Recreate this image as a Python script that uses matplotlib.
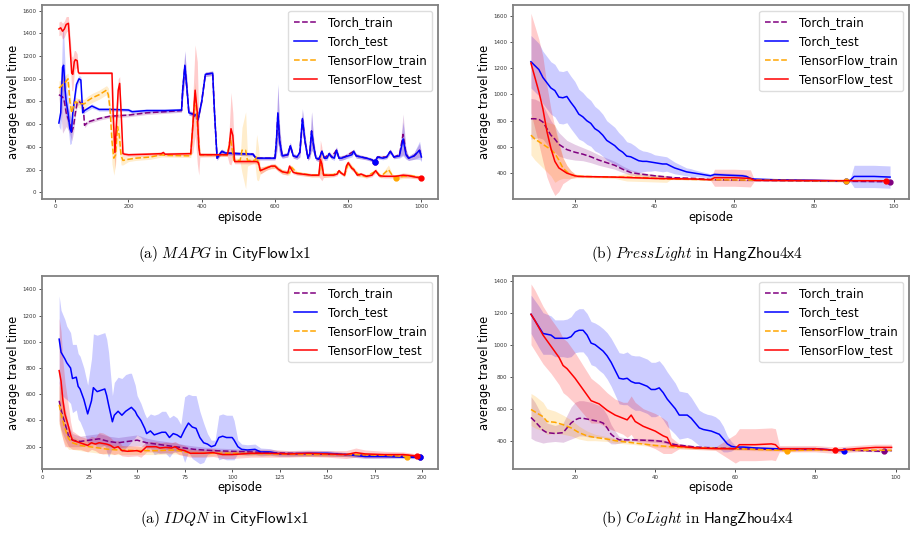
import numpy as np
import matplotlib
matplotlib.use("Agg")
import matplotlib.pyplot as plt

plt.rcParams['mathtext.fontset'] = 'cm'

series_names = ["Torch_train", "Torch_test", "TensorFlow_train", "TensorFlow_test"]
series_colors = ["purple", "blue", "orange", "red"]
series_styles = ["--", "-", "--", "-"]

captions = [
    r"$\mathrm{(a)}\ \mathit{MAPG}\ \mathrm{in}\ \mathsf{CityFlow1x1}$",
    r"$\mathrm{(b)}\ \mathit{PressLight}\ \mathrm{in}\ \mathsf{HangZhou4x4}$",
    r"$\mathrm{(a)}\ \mathit{IDQN}\ \mathrm{in}\ \mathsf{CityFlow1x1}$",
    r"$\mathrm{(b)}\ \mathit{CoLight}\ \mathrm{in}\ \mathsf{HangZhou4x4}$",
]

# (episode, mean, half-width of shaded band)
mapg_torch_train = [(10, 860, 30), (15, 850, 150), (20, 840, 320), (25, 800, 250), (30, 700, 120),
                    (35, 650, 100), (40, 600, 90), (45, 530, 80), (50, 580, 60), (55, 700, 40),
                    (60, 790, 30), (65, 800, 25), (72, 780, 20), (76, 780, 20), (80, 590, 20),
                    (90, 620, 15), (100, 630, 15), (120, 650, 15), (150, 670, 15), (200, 680, 15),
                    (250, 700, 15), (300, 710, 15), (345, 720, 15), (348, 900, 80), (354, 1110, 130),
                    (360, 900, 80), (365, 700, 20), (375, 690, 20), (390, 640, 20), (400, 800, 20),
                    (410, 1040, 20), (430, 1050, 20), (435, 700, 20), (442, 300, 20), (450, 340, 20),
                    (455, 360, 20), (465, 345, 15), (500, 340, 15), (540, 335, 15), (548, 300, 15),
                    (600, 300, 15), (604, 450, 120), (608, 690, 250), (613, 450, 120), (620, 320, 20),
                    (635, 330, 20), (642, 410, 30), (650, 320, 20), (660, 310, 20), (668, 350, 40),
                    (675, 640, 90), (682, 450, 60), (690, 300, 20), (695, 340, 40), (700, 540, 170),
                    (706, 400, 60), (712, 300, 20), (720, 290, 20), (728, 360, 20), (735, 300, 20),
                    (748, 340, 20), (755, 310, 20), (768, 370, 30), (775, 300, 20), (790, 310, 20),
                    (815, 360, 20), (822, 320, 20), (850, 300, 15), (865, 285, 15), (873, 270, 10),
                    (880, 310, 15), (905, 310, 15), (915, 360, 20), (925, 310, 15), (940, 330, 20),
                    (950, 510, 180), (958, 340, 40), (965, 300, 20), (980, 320, 30), (995, 370, 60),
                    (1000, 310, 30)]
mapg_torch_test = [(10, 610, 30), (15, 700, 150), (20, 1100, 330), (23, 1120, 300), (27, 900, 200),
                   (30, 800, 150), (35, 700, 130), (40, 560, 140), (44, 530, 100), (48, 700, 80),
                   (52, 800, 60), (58, 950, 40), (65, 1000, 30), (70, 990, 30), (75, 700, 20),
                   (80, 720, 20), (90, 740, 20), (100, 760, 20), (110, 745, 15), (120, 730, 15),
                   (150, 730, 15), (200, 725, 15), (210, 710, 15), (250, 720, 15), (300, 720, 15),
                   (345, 725, 15), (348, 900, 80), (354, 1120, 130), (360, 900, 80), (365, 700, 20),
                   (375, 690, 20), (385, 680, 20), (390, 640, 20), (400, 800, 20), (410, 1040, 20),
                   (430, 1050, 20), (435, 700, 20), (442, 300, 20), (450, 340, 20), (455, 360, 20),
                   (465, 345, 15), (500, 340, 15), (540, 335, 15), (548, 300, 15), (560, 300, 15),
                   (600, 300, 15), (604, 450, 120), (608, 700, 260), (613, 450, 120), (620, 320, 20),
                   (635, 330, 20), (642, 410, 30), (650, 320, 20), (660, 310, 20), (668, 350, 40),
                   (675, 650, 90), (682, 450, 60), (690, 300, 20), (695, 340, 40), (700, 540, 170),
                   (706, 400, 60), (712, 300, 20), (720, 290, 20), (728, 360, 20), (735, 300, 20),
                   (742, 300, 20), (748, 340, 20), (755, 310, 20), (762, 300, 20), (768, 370, 30),
                   (775, 300, 20), (782, 300, 20), (790, 310, 20), (800, 320, 20), (810, 330, 20),
                   (815, 360, 20), (822, 320, 20), (835, 310, 15), (850, 300, 15), (865, 285, 15),
                   (873, 265, 10), (880, 310, 15), (895, 300, 15), (905, 310, 15), (915, 360, 20),
                   (925, 310, 15), (940, 320, 20), (950, 470, 150), (958, 330, 40), (965, 300, 20),
                   (980, 320, 30), (995, 370, 80), (1000, 310, 40)]
mapg_tf_train = [(10, 920, 60), (15, 930, 60), (20, 950, 60), (25, 960, 60), (30, 980, 60),
                 (35, 1000, 50), (40, 800, 80), (45, 700, 80), (50, 760, 60), (55, 800, 40),
                 (60, 790, 40), (70, 780, 40), (80, 780, 40), (90, 810, 40), (100, 830, 40),
                 (120, 860, 40), (140, 900, 40), (145, 860, 60), (150, 720, 100), (155, 450, 200),
                 (160, 300, 150), (165, 330, 80), (170, 580, 150), (175, 500, 150), (180, 320, 80),
                 (185, 280, 40), (200, 290, 20), (220, 300, 20), (260, 310, 20), (290, 330, 20),
                 (300, 325, 15), (370, 320, 15), (376, 600, 100), (382, 870, 100), (388, 600, 100),
                 (395, 330, 15), (470, 330, 15), (475, 420, 60), (478, 480, 70), (482, 400, 60),
                 (488, 280, 20), (505, 280, 20), (510, 370, 200), (520, 370, 340), (525, 280, 50),
                 (545, 280, 20), (550, 310, 200), (555, 250, 150), (560, 190, 30), (580, 220, 20),
                 (600, 230, 20), (620, 180, 20), (640, 170, 20), (645, 220, 20), (660, 170, 15),
                 (700, 150, 15), (720, 150, 15), (725, 270, 100), (733, 150, 20), (760, 155, 15),
                 (775, 185, 15), (790, 150, 15), (800, 250, 30), (815, 200, 20), (830, 150, 15),
                 (850, 140, 15), (875, 185, 15), (890, 140, 15), (910, 200, 40), (920, 150, 15),
                 (930, 126, 15), (950, 140, 20), (970, 145, 15), (990, 135, 15), (1000, 130, 10)]
mapg_tf_test = [(10, 1440, 60), (15, 1450, 60), (20, 1420, 70), (25, 1440, 70), (30, 1480, 70),
                (36, 1490, 60), (40, 1300, 100), (45, 1050, 150), (48, 1040, 150), (52, 1150, 100),
                (55, 1170, 80), (60, 1160, 60), (63, 1060, 30), (65, 1050, 10), (100, 1050, 10),
                (155, 1050, 10), (158, 700, 200), (163, 350, 150), (167, 600, 150), (172, 900, 100),
                (176, 960, 60), (180, 700, 60), (185, 340, 20), (190, 335, 15), (200, 330, 15),
                (250, 335, 15), (290, 340, 15), (295, 350, 15), (300, 335, 15), (370, 340, 15),
                (376, 600, 250), (382, 900, 400), (388, 700, 450), (392, 400, 250), (395, 330, 20),
                (470, 330, 15), (475, 400, 150), (480, 560, 320), (485, 500, 200), (490, 270, 20),
                (550, 270, 20), (555, 260, 20), (560, 190, 30), (575, 210, 20), (590, 230, 20),
                (600, 230, 20), (610, 200, 20), (620, 180, 20), (635, 170, 20), (640, 230, 20),
                (645, 200, 20), (650, 175, 15), (660, 165, 15), (700, 150, 15), (720, 150, 15),
                (724, 290, 170), (728, 250, 150), (733, 150, 20), (760, 150, 15), (770, 160, 15),
                (775, 190, 15), (780, 170, 15), (790, 150, 15), (795, 230, 20), (800, 260, 20),
                (810, 210, 20), (815, 200, 20), (825, 150, 15), (835, 160, 15), (850, 140, 15),
                (865, 150, 15), (875, 190, 20), (885, 145, 15), (900, 140, 15), (930, 140, 15),
                (950, 150, 20), (965, 145, 20), (980, 135, 15), (1000, 125, 10)]

press_torch_train = [(9, 815, 155), (10, 815, 150), (11, 810, 140), (12, 790, 130), (13, 740, 120),
                     (14, 690, 110), (15, 660, 100), (16, 620, 90), (17, 600, 80), (18, 580, 70),
                     (20, 560, 60), (22, 545, 50), (24, 525, 45), (26, 500, 40), (28, 480, 35),
                     (30, 460, 30), (32, 430, 25), (34, 405, 20), (36, 395, 15), (40, 380, 10),
                     (45, 365, 10), (50, 360, 5), (55, 350, 5), (65, 345, 5), (99, 335, 5)]
press_torch_test = [(9, 1250, 200), (10, 1220, 200), (11, 1190, 200), (12, 1130, 200), (13, 1090, 200),
                    (14, 1050, 200), (15, 1030, 200), (16, 980, 200), (17, 975, 200), (18, 985, 200),
                    (19, 940, 200), (20, 900, 200), (21, 850, 190), (22, 830, 185), (23, 800, 180),
                    (24, 780, 175), (25, 740, 170), (26, 720, 165), (27, 690, 160), (28, 650, 150),
                    (29, 630, 145), (30, 610, 140), (31, 580, 130), (32, 560, 120), (33, 530, 110),
                    (34, 525, 105), (35, 510, 100), (36, 495, 90), (37, 490, 80), (38, 490, 75),
                    (39, 485, 70), (40, 480, 60), (41, 475, 60), (42, 470, 60), (43, 470, 55),
                    (44, 455, 50), (45, 440, 45), (46, 430, 40), (47, 420, 35), (48, 410, 30),
                    (49, 405, 30), (50, 400, 25), (52, 390, 20), (54, 380, 15), (55, 390, 15),
                    (58, 385, 15), (62, 380, 15), (63, 375, 10), (64, 360, 10), (65, 355, 5),
                    (70, 350, 5), (80, 346, 5), (88, 340, 5), (89, 345, 10), (90, 375, 85),
                    (95, 375, 85), (99, 370, 85)]
press_tf_train = [(9, 690, 150), (10, 660, 160), (11, 640, 170), (12, 620, 180), (13, 600, 190),
                  (14, 580, 200), (15, 550, 220), (16, 500, 150), (17, 440, 80), (18, 410, 50),
                  (19, 390, 30), (20, 380, 15), (22, 375, 10), (30, 370, 10), (33, 370, 30),
                  (38, 365, 30), (43, 355, 25), (44, 355, 5), (55, 350, 5), (88, 340, 5)]
press_tf_test = [(9, 1240, 380), (10, 1130, 390), (11, 1020, 400), (12, 890, 400), (13, 720, 350),
                 (14, 590, 300), (15, 490, 260), (16, 440, 180), (17, 420, 100), (18, 400, 60),
                 (19, 390, 30), (20, 380, 15), (21, 375, 5), (30, 370, 5), (40, 360, 5),
                 (50, 355, 5), (54, 350, 5), (55, 365, 65), (60, 365, 65), (64, 360, 65),
                 (65, 345, 5), (98, 342, 5)]

idqn_torch_train = [(9, 550, 150), (10, 480, 150), (12, 380, 120), (14, 280, 80), (16, 250, 50),
                    (20, 240, 40), (25, 250, 40), (30, 260, 40), (35, 240, 40), (40, 230, 40),
                    (45, 240, 40), (50, 250, 40), (55, 230, 35), (60, 220, 30), (65, 210, 30),
                    (70, 200, 30), (75, 190, 25), (80, 180, 25), (90, 170, 20), (100, 165, 20),
                    (110, 160, 20), (120, 155, 15), (140, 145, 15), (160, 140, 15), (180, 130, 10),
                    (199, 125, 10)]
idqn_torch_test = [(9, 1020, 330), (10, 920, 320), (12, 870, 300), (13, 840, 280), (15, 800, 270),
                   (16, 720, 260), (18, 730, 250), (19, 660, 250), (20, 640, 250), (22, 560, 240),
                   (24, 450, 220), (26, 550, 320), (27, 650, 410), (29, 620, 430), (31, 630, 430),
                   (33, 640, 430), (34, 590, 430), (35, 520, 400), (37, 390, 200), (38, 440, 250),
                   (40, 470, 260), (42, 440, 280), (44, 470, 280), (46, 490, 270), (47, 500, 260),
                   (49, 470, 200), (50, 440, 150), (52, 400, 130), (54, 340, 110), (55, 300, 120),
                   (57, 320, 130), (59, 290, 150), (61, 300, 150), (63, 310, 160), (65, 310, 160),
                   (67, 270, 150), (69, 300, 140), (71, 290, 130), (73, 270, 100), (75, 330, 250),
                   (77, 380, 220), (79, 350, 240), (81, 340, 250), (83, 270, 200), (85, 230, 150),
                   (87, 220, 80), (89, 200, 50), (91, 210, 40), (93, 270, 170), (95, 280, 170),
                   (97, 270, 170), (100, 270, 170), (101, 250, 150), (103, 200, 50), (105, 180, 40),
                   (108, 175, 40), (112, 180, 40), (115, 160, 30), (120, 160, 25), (125, 145, 20),
                   (130, 145, 20), (140, 150, 20), (150, 150, 20), (160, 140, 15), (170, 125, 15),
                   (180, 125, 15), (190, 120, 10), (199, 118, 10)]
idqn_tf_train = [(9, 520, 150), (10, 450, 150), (12, 340, 120), (14, 260, 80), (16, 230, 50),
                 (20, 210, 40), (25, 200, 40), (30, 190, 40), (35, 180, 40), (40, 175, 35),
                 (50, 170, 30), (60, 170, 30), (70, 175, 30), (75, 160, 25), (80, 150, 25),
                 (90, 150, 20), (100, 150, 20), (120, 145, 15), (140, 140, 15), (160, 140, 15),
                 (180, 135, 10), (192, 125, 10)]
idqn_tf_test = [(9, 780, 400), (10, 700, 380), (11, 550, 300), (12, 450, 250), (14, 350, 150),
                (15, 290, 100), (16, 250, 70), (18, 240, 60), (20, 230, 50), (22, 220, 50),
                (24, 210, 50), (26, 230, 50), (28, 220, 50), (30, 230, 80), (32, 225, 80),
                (34, 220, 70), (36, 210, 60), (38, 190, 50), (40, 200, 50), (42, 170, 40),
                (45, 165, 40), (50, 170, 40), (52, 160, 40), (55, 200, 40), (60, 200, 40),
                (62, 190, 40), (65, 195, 40), (68, 190, 40), (70, 200, 40), (72, 180, 40),
                (75, 170, 40), (78, 150, 30), (85, 150, 30), (90, 155, 30), (95, 140, 30),
                (100, 140, 30), (110, 150, 30), (120, 150, 30), (130, 145, 25), (140, 150, 25),
                (150, 145, 25), (160, 140, 30), (165, 155, 35), (170, 145, 30), (180, 140, 25),
                (190, 140, 20), (197, 130, 15)]

colight_torch_train = [(9, 545, 130), (10, 520, 120), (12, 465, 80), (13, 450, 60), (15, 445, 50),
                       (17, 450, 60), (18, 480, 80), (19, 510, 100), (20, 530, 110), (21, 540, 110),
                       (22, 540, 110), (24, 530, 110), (26, 520, 100), (27, 510, 90), (28, 480, 80),
                       (29, 440, 60), (30, 420, 40), (31, 405, 20), (33, 405, 10), (35, 405, 10),
                       (40, 400, 10), (42, 395, 10), (45, 375, 10), (50, 360, 10), (55, 355, 5),
                       (60, 350, 5), (70, 345, 5), (80, 345, 5), (90, 340, 5), (97, 333, 5),
                       (99, 338, 5)]
colight_torch_test = [(9, 1190, 120), (10, 1150, 125), (11, 1110, 130), (12, 1070, 130), (13, 1065, 125),
                      (14, 1060, 120), (15, 1040, 115), (16, 1040, 115), (17, 1040, 115), (18, 1040, 120),
                      (19, 1050, 125), (20, 1080, 130), (21, 1090, 135), (22, 1090, 135), (23, 1060, 135),
                      (24, 1010, 135), (25, 1000, 135), (26, 980, 140), (27, 960, 140), (28, 930, 145),
                      (29, 890, 150), (30, 840, 155), (31, 790, 160), (32, 785, 160), (33, 790, 165),
                      (34, 770, 165), (35, 760, 170), (36, 760, 170), (37, 750, 170), (38, 740, 170),
                      (39, 720, 170), (40, 720, 170), (41, 730, 170), (42, 700, 170), (43, 660, 170),
                      (44, 630, 165), (45, 600, 160), (46, 560, 150), (47, 560, 145), (48, 560, 140),
                      (49, 540, 130), (50, 510, 120), (51, 480, 110), (52, 470, 105), (53, 465, 100),
                      (54, 460, 100), (55, 450, 100), (56, 440, 90), (57, 410, 80), (58, 380, 50),
                      (59, 365, 30), (60, 360, 10), (62, 360, 10), (65, 355, 5), (70, 350, 5),
                      (80, 350, 5), (87, 337, 5)]
colight_tf_train = [(9, 595, 100), (10, 580, 100), (12, 550, 90), (13, 520, 80), (15, 515, 70),
                    (17, 500, 60), (19, 480, 50), (21, 450, 40), (23, 430, 30), (25, 420, 20),
                    (28, 410, 15), (30, 400, 15), (35, 385, 10), (40, 370, 10), (45, 360, 10),
                    (50, 355, 10), (60, 350, 10), (73, 338, 5), (80, 342, 5), (90, 342, 5),
                    (99, 340, 5)]
colight_tf_test = [(9, 1190, 190), (10, 1150, 190), (12, 1060, 180), (14, 990, 170), (16, 920, 170),
                   (17, 870, 170), (18, 850, 170), (20, 790, 160), (22, 720, 150), (24, 650, 140),
                   (26, 630, 120), (28, 590, 110), (30, 560, 100), (32, 540, 100), (33, 530, 110),
                   (34, 560, 120), (35, 520, 120), (37, 490, 110), (40, 460, 110), (42, 430, 110),
                   (43, 420, 100), (44, 370, 50), (46, 365, 15), (50, 355, 10), (55, 350, 10),
                   (60, 350, 90), (61, 375, 100), (65, 375, 100), (69, 380, 100), (70, 375, 100),
                   (71, 350, 20), (80, 350, 20), (85, 340, 20), (90, 350, 20), (95, 358, 20),
                   (99, 358, 20)]

panels = [
    [mapg_torch_train, mapg_torch_test, mapg_tf_train, mapg_tf_test],
    [press_torch_train, press_torch_test, press_tf_train, press_tf_test],
    [idqn_torch_train, idqn_torch_test, idqn_tf_train, idqn_tf_test],
    [colight_torch_train, colight_torch_test, colight_tf_train, colight_tf_test],
]
x_limits = [(-36, 1045), (4.5, 103.7), (0, 208.2), (4.5, 103.3)]
y_limits = [(-59, 1653), (204, 1684), (30, 1501), (223, 1429)]
x_ticks = [[0, 200, 400, 600, 800, 1000], [20, 40, 60, 80, 100],
           [0, 25, 50, 75, 100, 125, 150, 175, 200], [20, 40, 60, 80, 100]]
y_ticks = [[0, 200, 400, 600, 800, 1000, 1200, 1400, 1600],
           [400, 600, 800, 1000, 1200, 1400, 1600],
           [200, 400, 600, 800, 1000, 1200, 1400],
           [400, 600, 800, 1000, 1200, 1400]]

# axes boxes in figure fraction (left, bottom, width, height)
boxes = [(0.0462, 0.629, 0.435, 0.362), (0.5637, 0.629, 0.435, 0.362),
         (0.0462, 0.125, 0.435, 0.360), (0.5637, 0.125, 0.435, 0.360)]
caption_pos = [(0.247, 0.526), (0.766, 0.526), (0.247, 0.032), (0.766, 0.032)]

fig = plt.figure(figsize=(9.1, 5.36), dpi=100)

for i, runs in enumerate(panels):
    ax = fig.add_axes(boxes[i])
    for run, name, color, ls in zip(runs, series_names, series_colors, series_styles):
        ep, mean, spread = np.array(run, dtype=float).T
        ax.fill_between(ep, mean - spread, mean + spread, color=color, alpha=0.2, linewidth=0)
        ax.plot(ep, mean, ls, color=color, lw=1.1, label=name)
        best = np.argmin(mean)
        ax.plot(ep[best], mean[best], 'o', color=color, ms=3.5)
    ax.set_xlim(x_limits[i])
    ax.set_ylim(y_limits[i])
    ax.set_xticks(x_ticks[i])
    ax.set_yticks(y_ticks[i])
    ax.tick_params(labelsize=4, colors='#333333', length=2, width=0.6, pad=2)
    for s in ax.spines.values():
        s.set_color('#808080')
        s.set_linewidth(1.3)
    ax.set_xlabel("episode", fontsize=8.3, labelpad=1)
    ax.set_ylabel("average travel time", fontsize=8.3, labelpad=2)
    ax.legend(loc='upper right', fontsize=8.5, framealpha=1, edgecolor='#dddddd',
              borderaxespad=0.5, handletextpad=0.9, borderpad=0.45)
    fig.text(caption_pos[i][0], caption_pos[i][1], captions[i], ha='center', va='center',
             fontsize=11)

plt.savefig("out.png", dpi=100)
